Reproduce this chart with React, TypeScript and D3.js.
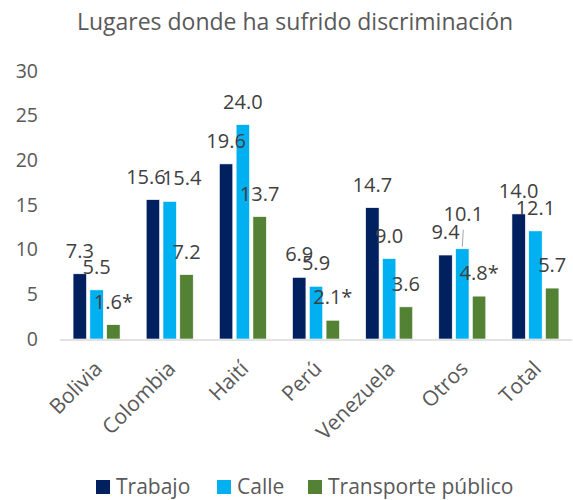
import { useEffect } from 'react'
import * as d3 from 'd3'

const categories = ['Bolivia', 'Colombia', 'Haití', 'Perú', 'Venezuela', 'Otros', 'Total']
const seriesNames = ['Trabajo', 'Calle', 'Transporte público']
const trabajo = [7.3, 15.6, 19.6, 6.9, 14.7, 9.4, 14.0]
const calle = [5.5, 15.4, 24.0, 5.9, 9.0, 10.1, 12.1]
const transporte = [1.6, 7.2, 13.7, 2.1, 3.6, 4.8, 5.7]
// estimates flagged with * in the source
const transporteFlag = [true, false, false, true, false, true, false]
const yTicks = [0, 5, 10, 15, 20, 25, 30]

const colors = ['#002060', '#00b0f0', '#548235']
const FONT = '"Open Sans", sans-serif'

// manual label nudges as in the original (series index, category index)
const labelNudge: Record<string, { dx: number; dy: number; leader?: boolean }> = {
  '0-1': { dx: -7, dy: 0 },
  '1-1': { dx: 12, dy: 0 },
  '1-5': { dx: 1, dy: -12, leader: true },
}

const W = 573
const H = 500
const margin = { top: 71, right: 1, bottom: 161, left: 60 }

export default function App() {
  useEffect(() => {
    document.body.style.margin = '0'
  }, [])

  const series = [trabajo, calle, transporte]
  const x = d3.scaleBand<string>().domain(categories).range([margin.left, W - margin.right])
  const inner = d3.scaleBand<number>().domain([0, 1, 2]).range([-23.5, 23.5]).paddingInner(0.2)
  const y = d3.scaleLinear().domain([0, 30]).range([H - margin.bottom, margin.top])
  const base = y(0)

  return (
    <svg width={W} height={H} style={{ display: 'block', background: '#fff' }} fontFamily={FONT}>
      <text x={295} y={22} dy="0.35em" textAnchor="middle" fontSize={23} fill="#595959">
        Lugares donde ha sufrido discriminación
      </text>

      {yTicks.map((t) => (
        <text key={t} x={38} y={y(t)} dy="0.35em" textAnchor="end" fontSize={19.5} fill="#595959">
          {t}
        </text>
      ))}

      {series.map((vals, si) =>
        vals.map((v, ci) => {
          const cx = (x(categories[ci]) ?? 0) + x.bandwidth() / 2
          const bx = cx + (inner(si) ?? 0)
          return (
            <rect
              key={`${si}-${ci}`}
              x={bx}
              y={y(v)}
              width={inner.bandwidth()}
              height={base - y(v)}
              fill={colors[si]}
              stroke="#fff"
              strokeWidth={0.6}
            />
          )
        })
      )}

      <line x1={margin.left} x2={W - margin.right} y1={base + 1} y2={base + 1} stroke="#d9d9d9" strokeWidth={1.5} />

      {series.map((vals, si) =>
        vals.map((v, ci) => {
          const cx = (x(categories[ci]) ?? 0) + x.bandwidth() / 2
          const bx = cx + (inner(si) ?? 0) + inner.bandwidth() / 2
          const n = labelNudge[`${si}-${ci}`] ?? { dx: 0, dy: 0 }
          const ly = y(v) - 23 + n.dy
          const label = v.toFixed(1) + (si === 2 && transporteFlag[ci] ? '*' : '')
          return (
            <g key={`l${si}-${ci}`}>
              {n.leader && (
                <line x1={bx + 1} x2={bx} y1={ly + 16} y2={y(v) - 2} stroke="#a6a6a6" strokeWidth={1} />
              )}
              <text x={bx + n.dx} y={ly} dy="0.35em" textAnchor="middle" fontSize={20} fill="#404040">
                {label}
              </text>
            </g>
          )
        })
      )}

      {categories.map((c) => {
        const cx = (x(c) ?? 0) + x.bandwidth() / 2
        return (
          <text
            key={c}
            transform={`translate(${cx + 7},${base + 31}) rotate(-45)`}
            textAnchor="end"
            fontSize={21}
            fill="#595959"
          >
            {c}
          </text>
        )
      })}

      {seriesNames.map((s, i) => {
        const lx = [96, 217, 308][i]
        return (
          <g key={s} transform={`translate(${lx},${487})`}>
            <rect x={0} y={-7} width={14} height={14} fill={colors[i]} />
            <text x={20} y={0} dy="0.35em" fontSize={21} fill="#595959">
              {s}
            </text>
          </g>
        )
      })}
    </svg>
  )
}
